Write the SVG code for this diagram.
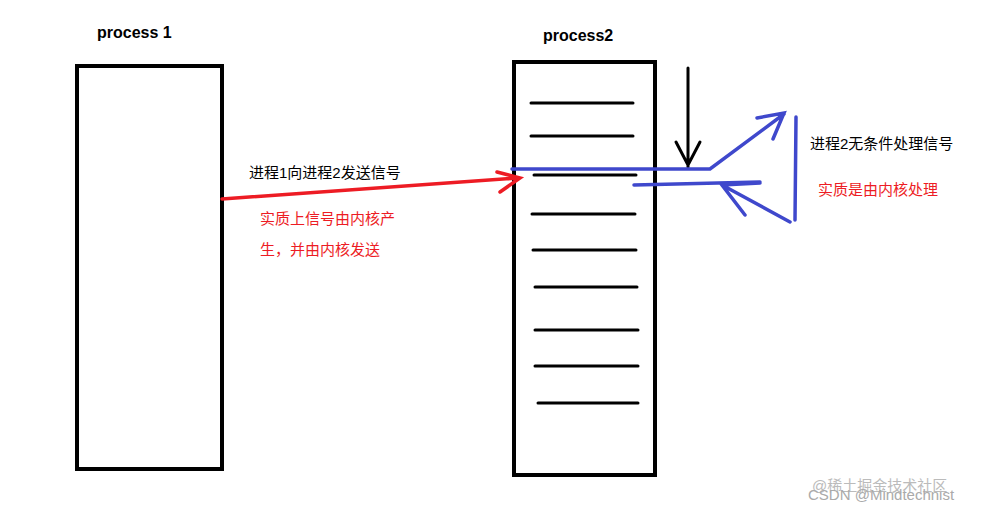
<svg xmlns="http://www.w3.org/2000/svg" width="991" height="510" viewBox="0 0 991 510">
<style>
.box{fill:none;stroke:#000;stroke-width:4}
.k{stroke:#000;stroke-width:3;stroke-linecap:round;fill:none}
.b{stroke:#3f48cc;stroke-width:3.5;stroke-linecap:round;fill:none}
.r{stroke:#ed1c24;stroke-width:3.5;stroke-linecap:round;fill:none}
.t{font-family:"Liberation Sans","Noto Sans CJK SC",sans-serif;font-size:15px}
.h{font-family:"Liberation Sans",sans-serif;font-size:16px;font-weight:bold}
</style>
<rect width="991" height="510" fill="#fff"/>
<g id="process1"><rect class="box" x="77" y="66" width="145" height="403"/><text class="h" x="97" y="38">process 1</text></g>
<g id="process2"><rect class="box" x="514" y="62" width="141" height="413"/><text class="h" x="543" y="41">process2</text>
<path class="k" d="M531 103H633M531 136H633M534 175H636M532 214H635M533 250H636M535 287H637M535 330H638M535 366H638M538 403H638"/></g>
<g id="connectors">
<path class="r" d="M222 199L518 178M497 172L520 178L500 192"/>
<path class="k" d="M688 68V167M676 142L688 165L700 142"/>
<path class="b" d="M512 169H710L784 114M757 118L784 113L773 139"/>
<path class="b" d="M634 185L760 182M790 222L722 185M745 215L722 185L760 183"/>
<path class="b" d="M796 117L795 220"/>
</g>
<g id="labels">
<text class="t" x="249" y="178">进程1向进程2发送信号</text>
<text class="t" x="260" y="224" fill="#ed1c24">实质上信号由内核产</text>
<text class="t" x="260" y="255" fill="#ed1c24">生，并由内核发送</text>
<text class="t" x="810" y="149">进程2无条件处理信号</text>
<text class="t" x="818" y="195" fill="#ed1c24">实质是由内核处理</text>
<text class="t" x="812" y="491" fill="#bbb">@稀土掘金技术社区</text>
<text class="t" x="808" y="500" fill="#aaa">CSDN @Mindtechnist</text>
</g>
</svg>
